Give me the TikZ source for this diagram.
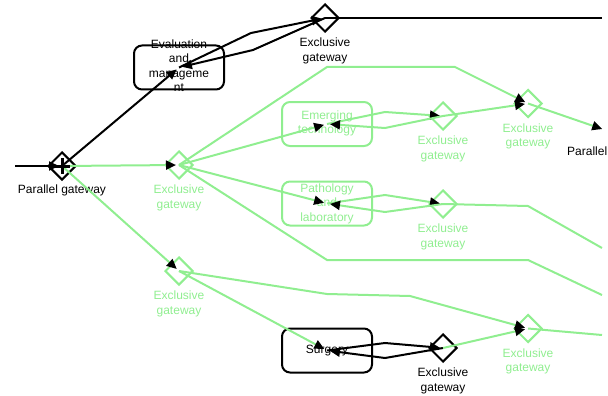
\documentclass[tikz,border=0pt]{standalone}
\usepackage{fontspec}
\setmainfont{Liberation Sans}
\usetikzlibrary{shapes.geometric,arrows.meta,calc}
\definecolor{lg}{RGB}{144,238,144}
\begin{document}
\begin{tikzpicture}[x=1pt,y=-1pt,
  gw/.style={diamond,draw,line width=2pt,minimum width=28pt,minimum height=28pt,inner sep=0pt},
  task/.style={draw,rounded corners=8pt,line width=2pt,minimum width=90pt,minimum height=44pt,inner sep=0pt},
  txt/.style={font=\fontsize{12}{14.5}\selectfont,align=center,inner sep=0pt},
  lbl/.style={txt,anchor=north},
  gr/.style={draw=lg,text=lg},
  edge/.style={line width=2pt,-{Triangle[length=10pt,width=9pt,color=black]},shorten >=3pt},
  plain/.style={line width=2pt},
]
\useasboundingbox (0,0) rectangle (608,396);
\begin{scope}
\clip (0,0) rectangle (608,396);
% nodes
\coordinate (s0) at (15,166);
\node[gw] (p1) at (62,166) {};
\node[lbl] (p1l) at ($(p1)+(0,19)$) {Parallel gateway};
\node[gw] (et) at (325,18) {};
\node[lbl] (etl) at ($(et)+(0,20)$) {Exclusive\\gateway};
\coordinate (etr) at (602,18);
\node[task] (em) at (179,67.5) {};
\node[txt] (emt) at (179,65.5) {Evaluation\\and\\manageme\\nt};
\node[gw,gr] (e1) at (179,165) {};
\node[lbl,text=lg] (e1l) at ($(e1)+(0,20)$) {Exclusive\\gateway};
\node[task,gr] (tech) at (327,124) {};
\node[txt,text=lg] (techt) at (327,123.5) {Emerging\\technology};
\node[gw,gr] (e2) at (443,116) {};
\node[lbl,text=lg] (e2l) at ($(e2)+(0,20)$) {Exclusive\\gateway};
\node[gw,gr] (e3) at (528,103.5) {};
\node[lbl,text=lg] (e3l) at ($(e3)+(0,20)$) {Exclusive\\gateway};
\coordinate (p2) at (605,130);
\node[txt,anchor=north west] (p2l) at (567,147) {Parallel gateway};
\node[task,gr] (path) at (327,203.5) {};
\node[txt,text=lg] (patht) at (327,203.5) {Pathology\\and\\laboratory};
\node[gw,gr] (e4) at (443,204) {};
\node[lbl,text=lg] (e4l) at ($(e4)+(0,20)$) {Exclusive\\gateway};
\coordinate (e4r) at (602,248);
\coordinate (e1r) at (602,295);
\node[gw,gr] (e5) at (179,271) {};
\node[lbl,text=lg] (e5l) at ($(e5)+(0,20)$) {Exclusive\\gateway};
\node[task] (surg) at (327,350.5) {};
\node[txt] (surgt) at (327,350.5) {Surgery};
\node[gw] (e6) at (443,348) {};
\node[lbl] (e6l) at ($(e6)+(0,20)$) {Exclusive\\gateway};
\node[gw,gr] (e7) at (528,328.5) {};
\node[lbl,text=lg] (e7l) at ($(e7)+(0,20)$) {Exclusive\\gateway};
\coordinate (e7r) at (602,335);
% black edges
\draw[edge] (s0) -- (p1.center);
\draw[edge] (p1.center) -- (em.center);
\draw[edge] (em.center) -- (251,33) -- (et.center);
\draw[edge] (et.center) -- (253,50) -- (em.center);
\draw[plain] (et.center) -- (etr);
\draw[edge] (surg.center) -- (385,343) -- (e6.center);
\draw[edge] (e6.center) -- (385,358) -- (surg.center);
% green edges
\draw[edge,lg] (p1.center) -- (e1.center);
\draw[edge,lg] (p1.center) -- (e5.center);
\draw[edge,lg] (e1.center) -- (tech.center);
\draw[edge,lg] (tech.center) -- (385,112) -- (e2.center);
\draw[edge,lg] (e2.center) -- (385,128) -- (tech.center);
\draw[edge,lg] (e2.center) -- (e3.center);
\draw[edge,lg] (e1.center) -- (327,67) -- (455,67) -- (e3.center);
\draw[edge,lg] (e3.center) -- (p2);
\draw[edge,lg] (e1.center) -- (path.center);
\draw[edge,lg] (path.center) -- (385,195) -- (e4.center);
\draw[edge,lg] (e4.center) -- (385,212) -- (path.center);
\draw[plain,lg] (e4.center) -- (528,206) -- (e4r);
\draw[plain,lg] (e1.center) -- (327,260) -- (528,260) -- (e1r);
\draw[edge,lg] (e5.center) -- (surg.center);
\draw[edge,lg] (e5.center) -- (327,294) -- (410,296) -- (e7.center);
\draw[edge,lg] (e6.center) -- (e7.center);
\draw[plain,lg] (e7.center) -- (e7r);
% parallel marker
\draw[line width=3pt] ($(p1)+(0,-8)$) -- ($(p1)+(0,8)$) ($(p1)+(-8,0)$) -- ($(p1)+(8,0)$);
\end{scope}
\end{tikzpicture}
\end{document}
